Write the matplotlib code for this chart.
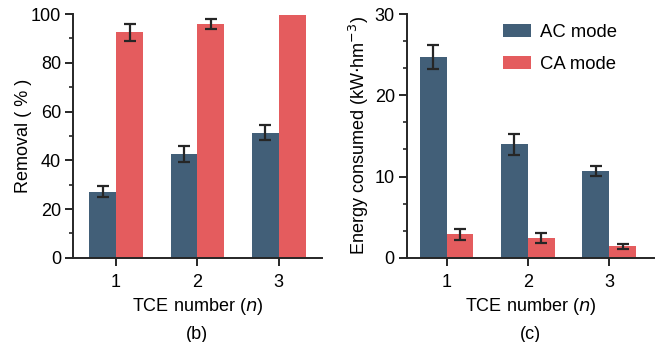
import numpy as np
import matplotlib
matplotlib.use("Agg")
import matplotlib.pyplot as plt
from matplotlib.ticker import AutoMinorLocator, MultipleLocator

plt.rcParams['font.family'] = ['Liberation Sans', 'DejaVu Sans']
plt.rcParams['font.size'] = 13

tce = [1, 2, 3]
removal_ac = [27.2, 42.6, 51.4]
removal_ac_err = [2.3, 3.3, 3.0]
removal_ca = [92.6, 95.9, 99.5]
removal_ca_err = [3.5, 2.2, 0.0]
energy_ac = [24.7, 14.0, 10.7]
energy_ac_err = [1.5, 1.3, 0.65]
energy_ca = [2.9, 2.4, 1.4]
energy_ca_err = [0.7, 0.6, 0.25]

blue = '#425f78'
red = '#e45c5e'
dark = '#262626'
w = 0.33

fig = plt.figure(figsize=(6.58, 3.42), dpi=100)
ax1 = fig.add_axes([0.111, 0.246, 0.378, 0.713])
ax2 = fig.add_axes([0.618, 0.246, 0.376, 0.713])

x = np.array(tce)


def bars(ax, pos, vals, errs, color, label):
    ax.bar(pos, vals, w, color=color, label=label)
    keep = [i for i, e in enumerate(errs) if e > 0]
    ax.errorbar(pos[keep], np.array(vals)[keep], yerr=np.array(errs)[keep], fmt='none',
                ecolor=dark, elinewidth=1.6, capsize=4.5, capthick=1.6)


bars(ax1, x - w / 2, removal_ac, removal_ac_err, blue, 'AC mode')
bars(ax1, x + w / 2, removal_ca, removal_ca_err, red, 'CA mode')
ax1.set_ylim(0, 100)
ax1.set_xlim(0.47, 3.53)
ax1.yaxis.set_major_locator(MultipleLocator(20))
ax1.yaxis.set_minor_locator(AutoMinorLocator(2))
ax1.set_ylabel('Removal ( % )', labelpad=-1)

bars(ax2, x - w / 2, energy_ac, energy_ac_err, blue, 'AC mode')
bars(ax2, x + w / 2, energy_ca, energy_ca_err, red, 'CA mode')
ax2.set_ylim(0, 30)
ax2.set_xlim(0.51, 3.55)
ax2.yaxis.set_major_locator(MultipleLocator(10))
ax2.yaxis.set_minor_locator(AutoMinorLocator(3))
ax2.set_ylabel('Energy consumed (kW$\\cdot$hm$^{-3}$)', labelpad=3)
ax2.legend(loc='upper left', frameon=False, handlelength=1.5, handleheight=0.7,
           handletextpad=0.5, labelspacing=0.82, fontsize=13.3,
           borderpad=0, borderaxespad=0, bbox_to_anchor=(0.39, 0.96))

for ax, tag in [(ax1, '(b)'), (ax2, '(c)')]:
    ax.set_xticks(tce)
    ax.set_xlabel('TCE number ($n$)', labelpad=4)
    ax.spines['top'].set_visible(False)
    ax.spines['right'].set_visible(False)
    for s in ['left', 'bottom']:
        ax.spines[s].set_linewidth(1.4)
        ax.spines[s].set_color(dark)
    ax.tick_params(which='major', length=5.5, width=1.4, color=dark, pad=3)
    ax.tick_params(axis='x', which='major', pad=6)
    ax.tick_params(which='minor', length=3, width=1.2, color=dark)
    ax.tick_params(axis='x', which='minor', bottom=False)
    ax.text(0.5, -0.28, tag, transform=ax.transAxes, ha='center', va='top')

fig.savefig('out.png', dpi=100)
